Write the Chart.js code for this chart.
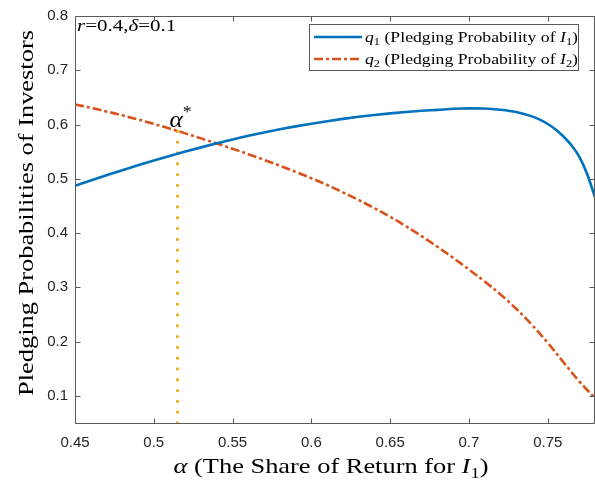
<!DOCTYPE html>
<html>
<head>
<meta charset="utf-8">
<title>Pledging Probabilities</title>
<script src="https://cdn.jsdelivr.net/npm/chart.js"></script>
<style>
    html, body { margin: 0; padding: 0; background: #fff; }
</style>
</head>
<body>
<canvas id="chart" width="595" height="483"></canvas>
<script>
    // values
    var alpha1 = [0.45, 0.46, 0.47, 0.48, 0.49, 0.50, 0.51, 0.52, 0.53, 0.54,
                  0.55, 0.56, 0.57, 0.58, 0.59, 0.60, 0.61, 0.62, 0.63, 0.64,
                  0.65, 0.66, 0.67, 0.68, 0.69, 0.70, 0.71, 0.72, 0.73, 0.74,
                  0.745, 0.75, 0.755, 0.76, 0.765, 0.77, 0.775, 0.78];
    var q1 = [0.4870, 0.4970, 0.5066, 0.5159, 0.5249, 0.5336, 0.5420, 0.5501, 0.5579, 0.5654,
              0.5726, 0.5792, 0.5854, 0.5912, 0.5966, 0.6016, 0.6062, 0.6104, 0.6142, 0.6176,
              0.6206, 0.6231, 0.6253, 0.6270, 0.6290, 0.6298, 0.6295, 0.6272, 0.6230, 0.6150,
              0.6090, 0.6010, 0.5910, 0.5780, 0.5620, 0.5410, 0.5090, 0.4660];
    var alpha2 = [0.45, 0.46, 0.47, 0.48, 0.49, 0.50, 0.51, 0.52, 0.53, 0.54,
                  0.55, 0.56, 0.57, 0.58, 0.59, 0.60, 0.61, 0.62, 0.63, 0.64,
                  0.65, 0.66, 0.67, 0.68, 0.69, 0.70, 0.71, 0.72, 0.73, 0.74,
                  0.75, 0.76, 0.77, 0.78];
    var q2 = [0.6370, 0.6308, 0.6241, 0.6169, 0.6093, 0.6012, 0.5926, 0.5837, 0.5745, 0.5650,
              0.5553, 0.5453, 0.5349, 0.5241, 0.5128, 0.5011, 0.4885, 0.4751, 0.4609, 0.4459,
              0.4299, 0.4127, 0.3943, 0.3748, 0.3543, 0.3328, 0.3108, 0.2870, 0.2605, 0.2308,
              0.1978, 0.1620, 0.1268, 0.0958];
    var alphaStar = 0.515;
    var alphaStarTop = 0.588;   // q2 at alpha*
    var xTicks = [0.45, 0.5, 0.55, 0.6, 0.65, 0.7, 0.75];
    var yTicks = [0.1, 0.2, 0.3, 0.4, 0.5, 0.6, 0.7, 0.8];

    var SERIF = '"Liberation Serif", "Times New Roman", serif';
    var SANS = '"Liberation Sans", Arial, sans-serif';
    var AXIS = '#5a5a5a';
    var WIDEN = 1.2;   // the figure's serif font runs wider than Liberation Serif

    // text pieces: [text, style]  style: r roman, i italic, sub, sup
    var legendItems = [
        [["q", "i"], ["1", "sub"], [" (Pledging Probability of ", "r"], ["I", "i"], ["1", "sub"], [")", "r"]],
        [["q", "i"], ["2", "sub"], [" (Pledging Probability of ", "r"], ["I", "i"], ["2", "sub"], [")", "r"]]
    ];
    var paramText = [["r", "i"], ["=0.4,", "r"], ["\u03b4", "i"], ["=0.1", "r"]];
    var starText = [["\u03b1", "i"], ["*", "sup"]];
    var xTitle = [["\u03b1", "i"], [" (The Share of Return for ", "r"], ["I", "i"], ["1", "sub"], [")", "r"]];
    var yTitle = "Pledging Probabilities of Investors";

    function segFont(st, size) {
        var fs = (st === "sub" || st === "sup") ? size * 0.7 : size;
        return (st === "i" ? "italic " : "") + fs + "px " + SERIF;
    }
    function richWidth(ctx, segs, size, k) {
        var w = 0;
        segs.forEach(function(s) { ctx.font = segFont(s[1], size); w += ctx.measureText(s[0]).width * k; });
        return w;
    }
    function drawRich(ctx, segs, x, y, size, k) {
        segs.forEach(function(s) {
            var dy = s[1] === "sub" ? size * 0.22 : (s[1] === "sup" ? -size * 0.42 : 0);
            ctx.font = segFont(s[1], size);
            ctx.save();
            ctx.translate(x, y + dy);
            ctx.scale(k, 1);
            ctx.fillText(s[0], 0, 0);
            ctx.restore();
            x += ctx.measureText(s[0]).width * k;
        });
        return x;
    }

    function pts(xs, ys) {
        return xs.map(function(a, i) { return {x: a, y: ys[i]}; });
    }

    var decor = {
        id: "decor",
        afterDatasetsDraw: function(chart) {
            var ctx = chart.ctx, ca = chart.chartArea;
            var xs = chart.scales.x, ys = chart.scales.y;
            ctx.save();
            ctx.fillStyle = "#000";
            ctx.textBaseline = "alphabetic";
            ctx.textAlign = "left";
            drawRich(ctx, paramText, ca.left + 2, ca.top + 15, 17.5, WIDEN);
            drawRich(ctx, starText, xs.getPixelForValue(alphaStar) - 8, ys.getPixelForValue(alphaStarTop) - 4, 24, 1.05);

            // legend box
            var bx = 309.5, by = 24.5, bw = 269, bh = 46;
            ctx.fillStyle = "#fff";
            ctx.fillRect(bx, by, bw, bh);
            ctx.strokeStyle = AXIS;
            ctx.lineWidth = 1;
            ctx.strokeRect(bx, by, bw, bh);
            var dsets = chart.data.datasets;
            legendItems.forEach(function(segs, i) {
                var ly = 37 + i * 22;
                ctx.beginPath();
                ctx.strokeStyle = dsets[i].borderColor;
                ctx.lineWidth = dsets[i].borderWidth;
                ctx.setLineDash(dsets[i].borderDash || []);
                ctx.moveTo(314, ly);
                ctx.lineTo(362, ly);
                ctx.stroke();
                ctx.setLineDash([]);
                ctx.fillStyle = "#000";
                drawRich(ctx, segs, 365, ly + 5, 15, 1.18);
            });
            ctx.restore();
        },
        afterDraw: function(chart) {
            var ctx = chart.ctx, ca = chart.chartArea;
            var xs = chart.scales.x, ys = chart.scales.y;
            var L = Math.round(ca.left) + 0.5, R = Math.round(ca.right) - 0.5;
            var T = Math.round(ca.top) + 0.5, B = Math.round(ca.bottom) + 0.5;
            ctx.save();
            ctx.strokeStyle = AXIS;
            ctx.lineWidth = 1;
            ctx.beginPath();
            ctx.rect(L, T, R - L, B - T);
            xTicks.forEach(function(v) {
                var p = Math.round(xs.getPixelForValue(v)) + 0.5;
                ctx.moveTo(p, B); ctx.lineTo(p, B - 5);
                ctx.moveTo(p, T); ctx.lineTo(p, T + 5);
            });
            yTicks.forEach(function(v) {
                var p = Math.round(ys.getPixelForValue(v)) + 0.5;
                ctx.moveTo(L, p); ctx.lineTo(L + 5, p);
                ctx.moveTo(R, p); ctx.lineTo(R - 5, p);
            });
            ctx.stroke();

            // axis titles
            ctx.fillStyle = "#000";
            ctx.textBaseline = "alphabetic";
            ctx.textAlign = "left";
            var tw = richWidth(ctx, xTitle, 22, WIDEN);
            drawRich(ctx, xTitle, (ca.left + ca.right) / 2 - tw / 2 - 4, 473, 22, WIDEN);

            ctx.translate(33, 213);
            ctx.rotate(-Math.PI / 2);
            ctx.scale(WIDEN, 1);
            ctx.textAlign = "center";
            ctx.font = "22px " + SERIF;
            ctx.fillText(yTitle, 0, 0);
            ctx.restore();
        }
    };

    var chart = new Chart(document.getElementById("chart"), {
        type: "line",
        data: {
            datasets: [
                {
                    label: "q1",
                    data: pts(alpha1, q1),
                    borderColor: "#0072BD",
                    borderWidth: 2.6,
                    pointRadius: 0,
                    cubicInterpolationMode: "monotone",
                    fill: false
                },
                {
                    label: "q2",
                    data: pts(alpha2, q2),
                    borderColor: "#D95319",
                    borderWidth: 2.6,
                    borderDash: [9, 3, 3, 3],
                    pointRadius: 0,
                    tension: 0.4,
                    fill: false
                },
                {
                    label: "alpha*",
                    data: [{x: alphaStar, y: 0.05}, {x: alphaStar, y: alphaStarTop}],
                    borderColor: "#EDB120",
                    borderWidth: 3.2,
                    borderDash: [0.1, 10.7],
                    borderCapStyle: "round",
                    pointRadius: 0,
                    fill: false
                }
            ]
        },
        options: {
            responsive: false,
            animation: false,
            layout: { padding: { left: 0, right: 0, top: 14, bottom: 0 } },
            plugins: { legend: { display: false }, tooltip: { enabled: false } },
            scales: {
                x: {
                    type: "linear",
                    min: 0.45,
                    max: 0.78,
                    afterBuildTicks: function(s) { s.ticks = xTicks.map(function(v) { return {value: v}; }); },
                    afterFit: function(s) { s.height = 60; },
                    grid: { display: false, drawTicks: false },
                    border: { display: false },
                    ticks: {
                        padding: 11,
                        color: "#262626",
                        autoSkip: false,
                        maxRotation: 0,
                        font: { family: SANS, size: 15 },
                        callback: function(v) { return String(v); }
                    }
                },
                y: {
                    type: "linear",
                    min: 0.05,
                    max: 0.8,
                    afterBuildTicks: function(s) { s.ticks = yTicks.map(function(v) { return {value: v}; }); },
                    afterFit: function(s) { s.width = 75; },
                    grid: { display: false, drawTicks: false },
                    border: { display: false },
                    ticks: {
                        padding: 7,
                        color: "#262626",
                        autoSkip: false,
                        font: { family: SANS, size: 15 },
                        callback: function(v) { return String(v); }
                    }
                }
            }
        },
        plugins: [decor]
    });
</script>
</body>
</html>
